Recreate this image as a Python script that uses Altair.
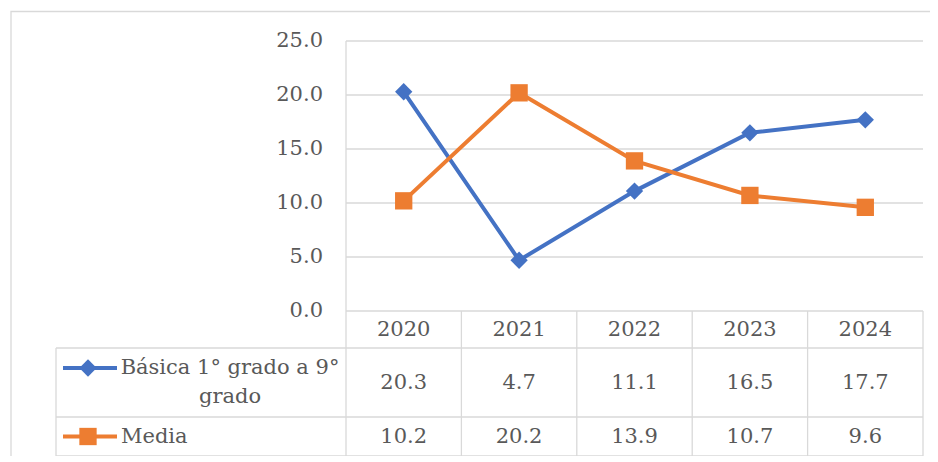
import altair as alt
import pandas as pd

# ---- data ----
years = ["2020", "2021", "2022", "2023", "2024"]
basica = [20.3, 4.7, 11.1, 16.5, 17.7]
media = [10.2, 20.2, 13.9, 10.7, 9.6]
series_names = ["Básica 1° grado a 9° grado", "Media"]
legend_lines = [["Básica 1° grado a 9°", "grado"], ["Media"]]
y_ticks = [0, 5, 10, 15, 20, 25]

# ---- style / layout ----
BLUE = "#4472C4"
ORANGE = "#ED7D31"
GRID = "#D9D9D9"
TEXT = "#595959"
FONT = "DejaVu Serif"
FS = 21

W = 867          # chart width (table left edge -> plot right edge)
H = 415          # chart height (plot top -> table bottom)
PLOT_L = 290     # plot-area left inside chart
PLOT_H = 270     # plot-area height
HDR_B, ROW1_B, ROW2_B = 307, 376, 415
STEP = (W - PLOT_L) / len(years)

df = pd.DataFrame({
    "year": years * 2,
    "value": basica + media,
    "series": [series_names[0]] * len(years) + [series_names[1]] * len(years),
})
df["label"] = df["value"].map(lambda v: f"{v:.1f}")
ticks = pd.DataFrame({"t": y_ticks, "lab": [f"{t:.1f}" for t in y_ticks]})
yrs = pd.DataFrame({"year": years})

xs = alt.Scale(type="point", domain=years, range=[PLOT_L, W], padding=0.5)
ys = alt.Scale(domain=[0, 25], range=[PLOT_H, 0])
X = alt.X("year:O", scale=xs, axis=None)
cs = alt.Scale(domain=series_names, range=[BLUE, ORANGE])
ss = alt.Scale(domain=series_names, range=["diamond", "square"])

base_text = dict(font=FONT, fontSize=FS, color=TEXT)

border = alt.Chart(pd.DataFrame({"a": [0]})).mark_rect(
    fillOpacity=0, stroke=GRID, strokeWidth=1.3
).encode(x=alt.value(-45), y=alt.value(-29.5), x2=alt.value(920), y2=alt.value(470))

grid = alt.Chart(ticks).mark_rule(color=GRID, strokeWidth=1.3).encode(
    y=alt.Y("t:Q", scale=ys, axis=None), x=alt.value(PLOT_L), x2=alt.value(W)
)
ylabels = alt.Chart(ticks).mark_text(align="right", baseline="middle", **base_text).encode(
    y=alt.Y("t:Q", scale=ys, axis=None), x=alt.value(PLOT_L - 23), text="lab:N"
)

left_line = alt.Chart(pd.DataFrame({"a": [0]})).mark_rule(color=GRID, strokeWidth=1.3).encode(
    x=alt.value(PLOT_L), y=alt.value(0), y2=alt.value(H)
)
col_lines = alt.Chart(yrs).mark_rule(color=GRID, strokeWidth=1.3, xOffset=STEP / 2).encode(
    x=X, y=alt.value(PLOT_H), y2=alt.value(H)
)
tbl_left = alt.Chart(pd.DataFrame({"a": [0]})).mark_rule(color=GRID, strokeWidth=1.3).encode(
    x=alt.value(0), y=alt.value(HDR_B), y2=alt.value(H)
)
hlines = [
    alt.Chart(pd.DataFrame({"a": [0]})).mark_rule(color=GRID, strokeWidth=1.3).encode(
        x=alt.value(0), x2=alt.value(W), y=alt.value(yv)
    )
    for yv in (HDR_B, ROW1_B, ROW2_B)
]

lines = alt.Chart(df).mark_line(strokeWidth=4).encode(
    x=X, y=alt.Y("value:Q", scale=ys, axis=None),
    color=alt.Color("series:N", scale=cs, legend=None),
    detail="series:N",
)
points = alt.Chart(df).mark_point(filled=True, opacity=1, size=300).encode(
    x=X, y=alt.Y("value:Q", scale=ys, axis=None),
    color=alt.Color("series:N", scale=cs, legend=None),
    shape=alt.Shape("series:N", scale=ss, legend=None),
)

hdr = alt.Chart(yrs).mark_text(baseline="middle", **base_text).encode(
    x=X, y=alt.value((PLOT_H + HDR_B) / 2), text="year:N"
)
row_y = [(HDR_B + ROW1_B) / 2, (ROW1_B + ROW2_B) / 2]
vals = [
    alt.Chart(df).transform_filter(alt.datum.series == s).mark_text(baseline="middle", **base_text).encode(
        x=X, y=alt.value(ry), text="label:N"
    )
    for s, ry in zip(series_names, row_y)
]

# legend keys inside the table
LH = 29
leg = []
for s, ry, col, shp, txt in zip(series_names, row_y, [BLUE, ORANGE], ["diamond", "square"], legend_lines):
    first_y = ry - (len(txt) - 1) * LH / 2
    d = pd.DataFrame({"series": [s]})
    leg.append(alt.Chart(d).mark_rule(color=col, strokeWidth=4).encode(
        x=alt.value(7), x2=alt.value(61), y=alt.value(first_y)))
    leg.append(alt.Chart(d).mark_point(filled=True, opacity=1, size=300, color=col, shape=shp).encode(
        x=alt.value(32), y=alt.value(first_y)))
    if len(txt) > 1:
        leg.append(alt.Chart(d).mark_text(align="center", baseline="middle", lineHeight=LH,
                                          text=txt, **base_text).encode(
            x=alt.value(174), y=alt.value(first_y)))
    else:
        leg.append(alt.Chart(d).mark_text(align="left", baseline="middle", text=txt[0], **base_text).encode(
            x=alt.value(65), y=alt.value(first_y)))

chart = alt.layer(
    border, grid, left_line, col_lines, tbl_left, *hlines, ylabels, hdr, *vals, *leg, lines, points
).properties(
    width=W, height=H,
    autosize=alt.AutoSizeParams(type="none"),
    padding={"left": 48, "top": 33, "right": 7, "bottom": 0},
    background="white",
).configure(font=FONT).configure_view(stroke=None)

chart.save("out.html", embed_options={"renderer": "svg", "actions": False})
